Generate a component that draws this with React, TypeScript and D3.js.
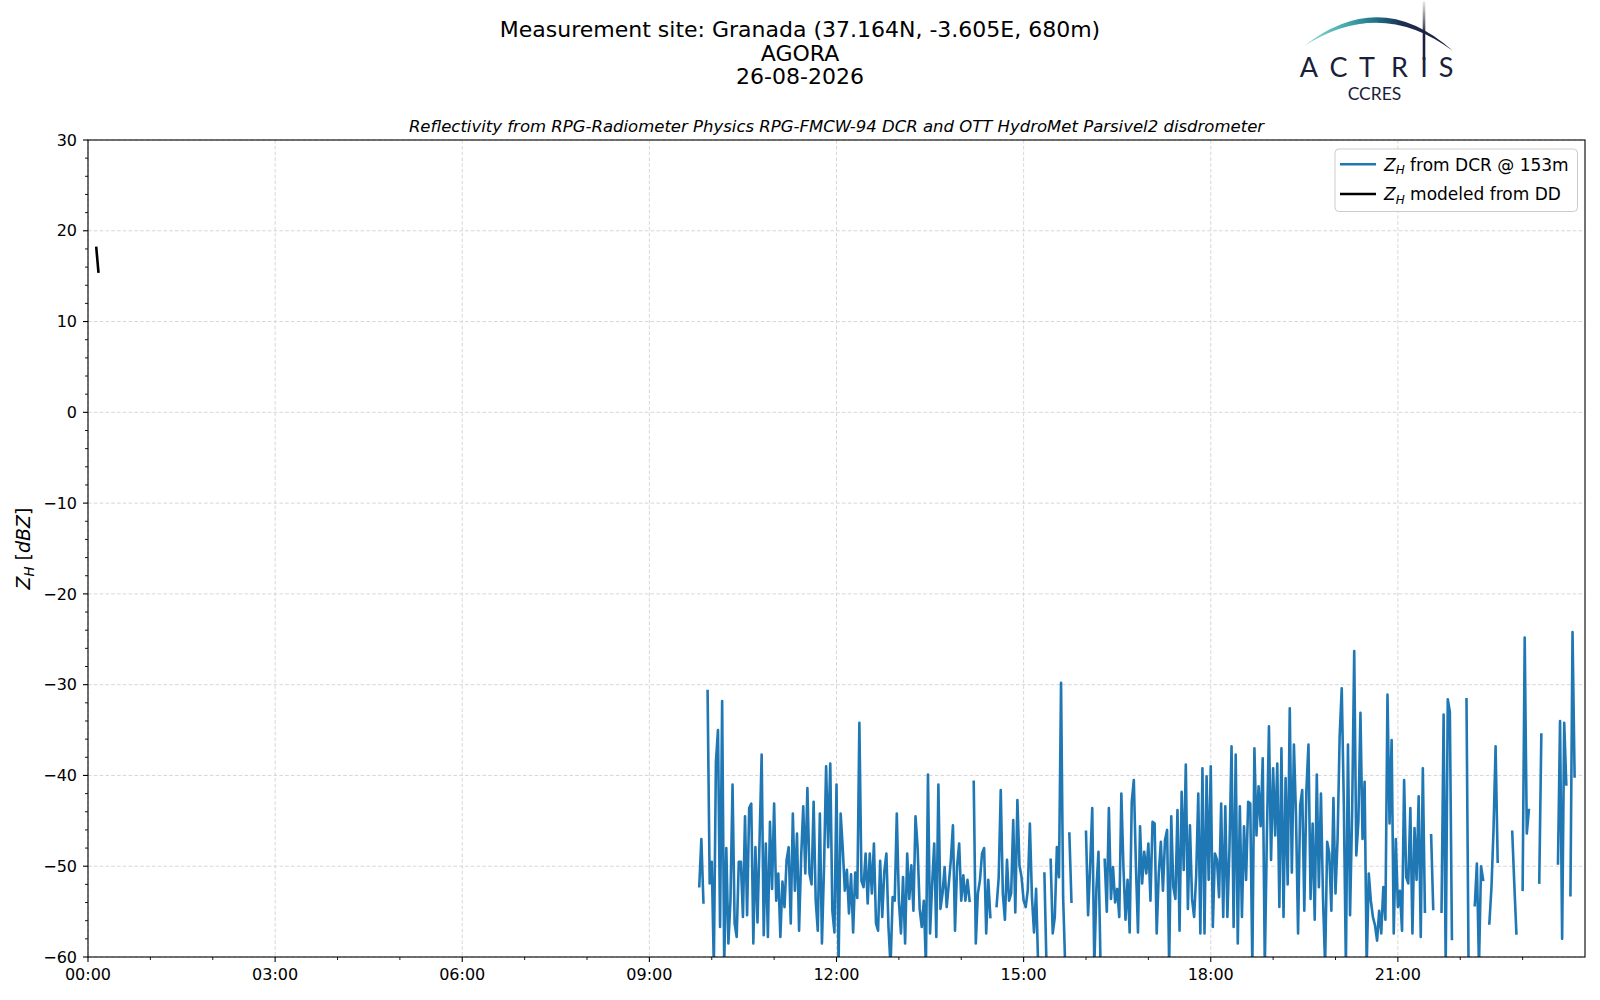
import React from "react";
import * as d3 from "d3";

// ---------------- text ----------------
const titleLines = [
  "Measurement site: Granada (37.164N, -3.605E, 680m)",
  "AGORA",
  "26-08-2026",
];
const subtitle =
  "Reflectivity from RPG-Radiometer Physics RPG-FMCW-94 DCR and OTT HydroMet Parsivel2 disdrometer";
const legendDcrText = " from DCR @ 153m";
const legendDdText = " modeled from DD";
const logoLetters = ["A", "C", "T", "R", "I", "S"];
const logoSub = "CCRES";

// ---------------- axes ----------------
const dayDomain = ["00:00", "24:00"];
const xTickLabels = ["00:00", "03:00", "06:00", "09:00", "12:00", "15:00", "18:00", "21:00"];
const xMinorTickLabels = [
  "01:00", "02:00", "04:00", "05:00", "07:00", "08:00", "10:00", "11:00",
  "13:00", "14:00", "16:00", "17:00", "19:00", "20:00", "22:00", "23:00",
];
const yDomain = [-60, 30];
const yTicks = [-60, -50, -40, -30, -20, -10, 0, 10, 20, 30];
const yMinorStep = 2;

// ---------------- data ----------------
// Z_H from DCR @ 153m, sampled every 2 minutes from 09:48 (null = no data)
const dcrStart = "09:48";
const dcrStepMinutes = 2;
const dcrZh0948to1158 = [
  -52.2, -47, -54, null, -30.7, -51.9, -49.5, -61, -38.5, -35.0,
  -56.7, -31.8, -61, -48, -58.5, -53.8, -41, -56.3, -57.8, -49.5,
  -49.5, -55.6, -44.5, -55.4, -43.6, -43.1, -58.5, -47.9, -56.2, -47.1,
  -37.7, -57.6, -47.5, -57.8, -45.1, -52.5, -43.1, -53.8, -50.8, -57.8,
  -51.7, -54.5, -49.3, -47.9, -56.3, -44.2, -52.7, -46.4, -57.1, -49,
  -43.4, -50.8, -41.4, -50.8, -52, -42.9, -53.8, -57.1, -44.2, -58.5,
  -50.1, -39.0, -47.9, -38.7, -54.9, -57.3,
];
const dcrZh1200to1458 = [
  -41.0, -61, -44.2, -48, -52.7, -50.4, -55.2, -50.9, -57.3, -50.7,
  -53.5, -34.2, -51.6, -52.3, -48.6, -54.1, -48.6, -53.0, -47.5, -56.3,
  -57.1, -49.4, -55.6, -50.6, -48.6, -56.7, -61, -53.4, -53.8, -44.2,
  -53.8, -57.4, -51.2, -58.5, -48.6, -53.6, -49.9, -54.9, -44.5, -47.9,
  -54.7, -56.7, -53.8, -61, -39.9, -57.4, -52, -47.5, -57.8, -41.0,
  -54.7, -53.0, -50.1, -54.5, -52, -49.3, -45.5, -57.1, -50, -47.5,
  -53.8, -51, -53.8, -51.5, -53.8, null, -40.7, -58.5, -53.0, -51.5,
  -48.6, -48.0, -57.4, -51.5, -55.6, null, null, -54.4, -51.3, -41.6,
  -53.0, -55.9, -49.3, -53.8, -53.0, -44.9, -55.1, -42.7, -49.9, -51.2,
];
const dcrZh1500to1758 = [
  -53.8, -54.5, -52.6, -45.3, -53.4, -57.3, -52.5, -61, null, null,
  -50.8, -61, null, -49.3, -57.4, -55.6, -47.9, -51.2, -29.8, -53.4,
  -61, null, -46.4, -53.9, null, null, null, null, null, null,
  -46.2, -55.4, -50, -43.6, -61, -52.5, -48.4, -61, null, -49.3,
  -55, -43.6, -53.6, -50.1, -54, -52.5, -55.6, -42.0, -50.1, -55.9,
  -51.5, -57.3, -42.9, -40.5, -49.9, -57.3, -45.6, -51.9, -48.4, -50.8,
  -47.5, -53.8, -45.1, -45.3, -57.4, -50.8, -47.3, -52.7, -47.1, -46.0,
  -61, -44.5, -52.3, -53.6, -43.8, -57.1, -41.8, -50.4, -38.8, -54.7,
  -45.5, -53.6, -55.6, -51.0, -42.0, -57.4, -39.2, -57.4, -40.1, -51.5,
];
const dcrZh1800to2058 = [
  -39.0, -56.7, -48.6, -49.3, -53.4, -43.1, -55.6, -43.4, -55.6, -48,
  -36.8, -56.7, -37.7, -58.5, -43.4, -55.6, -45.6, -51.5, -42.9, -43.1,
  -61, -37.0, -46.6, -41.2, -45.6, -38.1, -61, -46.6, -34.6, -49.3,
  -39.2, -46.6, -38.7, -54.5, -37.0, -55.6, -40.3, -52, -32.6, -50.7,
  -36.6, -44.4, -57.4, -43.3, -41.6, -54.9, -41.6, -36.6, -53.6, -45.3,
  -55.9, -39.9, -52.3, -42.0, -53.6, -61, -47.3, -48.6, -54.9, -42.5,
  -53.0, -47, -35.7, -30.4, -43.1, -61, -36.6, -55.4, -44.1, -26.3,
  -48.8, -45.1, -33.1, -47.0, -40.7, -61, -50.8, -53.8, -55.6, -56.5,
  -58.2, -54.9, -57.4, -52.3, -55.9, -31.1, -45.3, -36.1, -57.4, -47.0,
];
const dcrZh2100to2350 = [
  -54.5, -52.7, -57.1, -40.5, -51.2, -51.9, -43.6, -57.4, -45.8, -51.5,
  -42.3, -57.8, -39.2, -55, null, null, -46.6, -54.7, null, null,
  null, -55, -33.3, -61, -31.6, -33.0, -58.0, null, null, null,
  null, null, null, -31.6, -61, null, null, -54.3, -49.7, -61,
  -50.0, -51.5, null, null, -56.3, -52.4, -46.0, -36.8, -49.5, null,
  null, null, null, null, null, -46.2, -52, -57.4, null, null,
  -52.6, -24.8, -46.4, -43.8, null, null, null, null, -51.8, -35.5,
  null, null, null, null, null, null, null, -49.7, -34.0, -58.0,
  -34.2, -41.0, null, -53.2, -24.2, -40.1,
];

// Z_H modeled from the disdrometer DSD
const ddTimes = ["00:08", "00:10"];
const ddZh = [18.1, 15.5];

const toMin = (s: string) => {
  const [h, m] = s.split(":").map(Number);
  return h * 60 + m;
};

type Pt = { t: number; v: number | null };

export default function App() {
  const W = 1600;
  const H = 1000;
  const left = 88;
  const right = 1585;
  const top = 140;
  const bottom = 957;
  const font = "DejaVu Sans, Liberation Sans, sans-serif";
  const blue = "#1f77b4";
  const navy = "#1b1f3b";

  const x = d3.scaleLinear().domain(dayDomain.map(toMin)).range([left, right]);
  const y = d3.scaleLinear().domain(yDomain).range([bottom, top]);
  const fmt = d3.format("d");

  const dcrValues: (number | null)[] = [
    ...dcrZh0948to1158,
    ...dcrZh1200to1458,
    ...dcrZh1500to1758,
    ...dcrZh1800to2058,
    ...dcrZh2100to2350,
  ];
  const t0 = toMin(dcrStart);
  const dcrData: Pt[] = dcrValues.map((v, i) => ({ t: t0 + i * dcrStepMinutes, v }));
  const ddData: Pt[] = ddTimes.map((t, i) => ({ t: toMin(t), v: ddZh[i] }));

  const line = d3
    .line<Pt>()
    .defined((d) => d.v !== null)
    .x((d) => x(d.t))
    .y((d) => y(d.v as number));

  const yMinor = d3
    .range(yDomain[0], yDomain[1] + 0.001, yMinorStep)
    .filter((v) => !yTicks.includes(v));

  const gridStyle = { stroke: "#d2d2d2", strokeWidth: 0.9, strokeDasharray: "3.6,2.2" };

  const legendX0 = 1335;
  const legendY0 = 149;

  return (
    <svg
      width={W}
      height={H}
      style={{ position: "absolute", left: 0, top: 0, background: "#fff" }}
      fontFamily={font}
    >
      <defs>
        <clipPath id="plotClip">
          <rect x={left} y={top} width={right - left} height={bottom - top} />
        </clipPath>
        <linearGradient id="arcGrad" gradientUnits="userSpaceOnUse" x1={1304} y1={0} x2={1452} y2={0}>
          <stop offset="0" stopColor="#8fd8d0" />
          <stop offset="0.28" stopColor="#46aaae" />
          <stop offset="0.48" stopColor="#1f7589" />
          <stop offset="0.66" stopColor="#1e2f52" />
          <stop offset="1" stopColor="#1a1c38" />
        </linearGradient>
        <linearGradient id="barGrad" gradientUnits="userSpaceOnUse" x1={0} y1={0} x2={0} y2={35}>
          <stop offset="0" stopColor={navy} stopOpacity={0.05} />
          <stop offset="1" stopColor={navy} stopOpacity={1} />
        </linearGradient>
      </defs>

      {/* Titles */}
      {titleLines.map((t, i) => (
        <text key={t} x={800} y={37 + i * 23.6} fontSize={22} textAnchor="middle" fill="#000">
          {t}
        </text>
      ))}
      <text x={(left + right) / 2} y={131.5} fontSize={16.5} fontStyle="italic" textAnchor="middle" fill="#000">
        {subtitle}
      </text>

      {/* Logo */}
      <path d="M1304,46 Q1380.8,-14 1453,51 Q1380.8,-3 1304,46 Z" fill="url(#arcGrad)" />
      <line x1={1424} y1={1} x2={1424} y2={60} stroke="url(#barGrad)" strokeWidth={2.6} />
      {logoLetters.map((c, i) => (
        <text
          key={c + i}
          x={[1309, 1338.5, 1367, 1399.5, 1424, 1446][i]}
          y={76.5}
          fontSize={27}
          textAnchor="middle"
          fill={navy}
          fontFamily="Lato, sans-serif"
        >
          {c}
        </text>
      ))}
      <text x={1374.5} y={99.5} fontSize={17.5} textAnchor="middle" fill={navy} fontFamily="Lato, sans-serif">
        {logoSub}
      </text>

      {/* Grid */}
      {xTickLabels.map((t) => (
        <line key={"gx" + t} x1={x(toMin(t))} x2={x(toMin(t))} y1={top} y2={bottom} {...gridStyle} />
      ))}
      {yTicks.map((v) => (
        <line key={"gy" + v} x1={left} x2={right} y1={y(v)} y2={y(v)} {...gridStyle} />
      ))}

      {/* Data */}
      <g clipPath="url(#plotClip)">
        <path
          d={line(dcrData) || ""}
          fill="none"
          stroke={blue}
          strokeWidth={2.6}
          strokeLinejoin="round"
          strokeLinecap="square"
        />
        <path
          d={line(ddData) || ""}
          fill="none"
          stroke="#000"
          strokeWidth={2.6}
          strokeLinejoin="round"
          strokeLinecap="square"
        />
      </g>

      {/* Axes frame */}
      <rect x={left} y={top} width={right - left} height={bottom - top} fill="none" stroke="#000" strokeWidth={1.1} />

      {/* Y ticks */}
      {yTicks.map((v) => (
        <g key={"yt" + v}>
          <line x1={left - 5} x2={left} y1={y(v)} y2={y(v)} stroke="#000" strokeWidth={1.1} />
          <text x={77} y={y(v) + 5.7} fontSize={16} textAnchor="end" fill="#000">
            {fmt(v)}
          </text>
        </g>
      ))}
      {yMinor.map((v) => (
        <line key={"ym" + v} x1={left - 3} x2={left} y1={y(v)} y2={y(v)} stroke="#000" strokeWidth={0.9} />
      ))}

      {/* X ticks */}
      {xTickLabels.map((t) => (
        <g key={"xt" + t}>
          <line x1={x(toMin(t))} x2={x(toMin(t))} y1={bottom} y2={bottom + 5} stroke="#000" strokeWidth={1.1} />
          <text x={x(toMin(t))} y={979.5} fontSize={16} textAnchor="middle" fill="#000">
            {t}
          </text>
        </g>
      ))}
      {xMinorTickLabels.map((t) => (
        <line
          key={"xm" + t}
          x1={x(toMin(t))}
          x2={x(toMin(t))}
          y1={bottom}
          y2={bottom + 3}
          stroke="#000"
          strokeWidth={0.9}
        />
      ))}

      {/* Y label */}
      <text transform={`translate(30, ${(top + bottom) / 2}) rotate(-90)`} fontSize={19} textAnchor="middle" fill="#000">
        <tspan fontStyle="italic">Z</tspan>
        <tspan fontStyle="italic" fontSize={13.3} dy={4}>H</tspan>
        <tspan dy={-4}> [</tspan>
        <tspan fontStyle="italic">dBZ</tspan>
        <tspan>]</tspan>
      </text>

      {/* Legend */}
      <rect
        x={legendX0}
        y={legendY0}
        width={242.5}
        height={62.5}
        rx={4}
        fill="#fff"
        fillOpacity={0.8}
        stroke="#cccccc"
        strokeWidth={1}
      />
      <line x1={legendX0 + 5} x2={legendX0 + 41} y1={164.3} y2={164.3} stroke={blue} strokeWidth={2.6} />
      <line x1={legendX0 + 5} x2={legendX0 + 41} y1={194} y2={194} stroke="#000" strokeWidth={2.6} />
      <text x={legendX0 + 49} y={170.5} fontSize={17} fill="#000">
        <tspan fontStyle="italic">Z</tspan>
        <tspan fontStyle="italic" fontSize={12} dy={3.5}>H</tspan>
        <tspan dy={-3.5}>{legendDcrText}</tspan>
      </text>
      <text x={legendX0 + 49} y={200.2} fontSize={17} fill="#000">
        <tspan fontStyle="italic">Z</tspan>
        <tspan fontStyle="italic" fontSize={12} dy={3.5}>H</tspan>
        <tspan dy={-3.5}>{legendDdText}</tspan>
      </text>
    </svg>
  );
}
